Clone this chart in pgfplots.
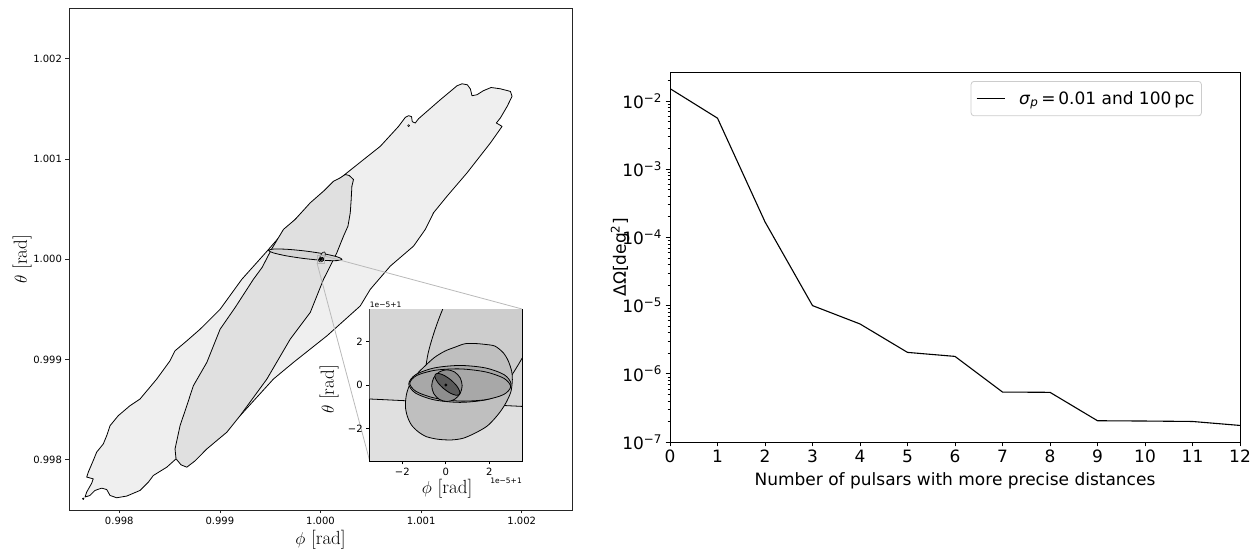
\documentclass[border=0pt]{standalone}
\usepackage{fontspec}
\usepackage{pgfplots}
\usepackage{pgfplotstable}
\pgfplotsset{compat=1.18}
\newfontfamily\dejavu{DejaVu Sans}
\definecolor{bigc}{HTML}{EFEFEF}
\definecolor{medc}{HTML}{E0E0E0}
\definecolor{eonec}{HTML}{D5D5D5}
\definecolor{etwoc}{HTML}{CDCDCD}
\definecolor{ethreec}{HTML}{BFBFBF}
\definecolor{efourc}{HTML}{A8A8A8}
\definecolor{efivec}{HTML}{8E8E8E}
\definecolor{esixc}{HTML}{5A5A5A}

% main panel: coordinates in mrad relative to 1 rad
\pgfplotstableread{
x y
-2.341 -2.371
-2.324 -2.321
-2.275 -2.234
-2.259 -2.189
-2.324 -2.172
-2.308 -2.122
-2.259 -2.007
-2.225 -1.923
-2.159 -1.841
-2.125 -1.758
-2.092 -1.659
-2.010 -1.559
-1.894 -1.460
-1.794 -1.393
-1.628 -1.194
-1.496 -1.012
-1.446 -0.912
-1.329 -0.813
-1.197 -0.697
-0.998 -0.498
-0.782 -0.199
-0.533 0.080
-0.301 0.348
-0.003 0.647
0.263 0.863
0.428 0.995
0.594 1.127
0.776 1.326
0.843 1.416
0.876 1.433
0.905 1.423
0.912 1.373
0.942 1.360
0.975 1.403
1.191 1.592
1.357 1.731
1.407 1.751
1.460 1.741
1.490 1.699
1.506 1.632
1.556 1.642
1.619 1.682
1.696 1.714
1.788 1.701
1.888 1.675
1.904 1.625
1.855 1.525
1.788 1.410
1.748 1.360
1.805 1.326
1.689 1.161
1.457 0.863
1.258 0.630
1.124 0.465
1.042 0.299
0.925 0.132
0.694 -0.067
0.495 -0.299
0.395 -0.465
0.064 -0.763
-0.269 -1.028
-0.468 -1.194
-0.799 -1.559
-1.098 -1.791
-1.436 -1.990
-1.528 -2.073
-1.662 -2.156
-1.711 -2.222
-1.794 -2.305
-1.926 -2.361
-2.026 -2.378
-2.092 -2.355
-2.125 -2.296
-2.175 -2.282
-2.242 -2.305
-2.292 -2.355
}\bigreg

\pgfplotstableread{
x y
0.246 0.846
0.286 0.836
0.328 0.796
0.312 0.729
0.305 0.597
0.296 0.465
0.273 0.331
0.229 0.232
0.163 0.067
0.097 -0.067
0.030 -0.199
-0.102 -0.530
-0.301 -0.796
-0.533 -1.194
-0.799 -1.559
-0.931 -1.724
-1.130 -1.891
-1.247 -2.010
-1.329 -2.073
-1.386 -2.050
-1.436 -1.990
-1.446 -1.891
-1.396 -1.659
-1.329 -1.460
-1.264 -1.261
-1.130 -1.028
-0.998 -0.697
-0.849 -0.481
-0.667 -0.199
-0.580 -0.080
-0.484 0.106
-0.368 0.299
-0.252 0.398
-0.102 0.564
0.030 0.680
0.129 0.779
0.196 0.813
}\medreg

\pgfplotstableread{
x y
0.2133 0.0002
0.1666 0.0250
0.0346 0.0552
-0.1474 0.0827
-0.3306 0.1001
-0.4660 0.1027
-0.5173 0.0899
-0.4706 0.0650
-0.3386 0.0348
-0.1566 0.0073
0.0266 -0.0101
0.1620 -0.0127
}\eone

% small contours: coordinates in units of 1e-5 rad relative to 1 rad
\pgfplotstableread{
u v
4.013 7.332
2.755 7.179
1.268 5.853
-0.049 3.709
-0.844 1.321
-0.904 -0.671
-0.213 -1.732
1.044 -1.579
2.532 -0.253
3.849 1.891
4.644 4.279
4.704 6.271
}\etwo

\pgfplotstableread{
u v
0.876 1.90
1.337 1.91
1.797 1.87
2.258 1.79
2.642 1.48
2.873 1.10
3.026 0.63
3.057 0.25
2.995 -0.29
2.796 -0.76
2.565 -1.14
2.258 -1.53
1.874 -1.91
1.336 -2.22
0.799 -2.45
0.261 -2.53
-0.353 -2.50
-0.891 -2.38
-1.275 -2.15
-1.582 -1.84
-1.767 -1.45
-1.859 -0.99
-1.813 -0.45
-1.659 0.01
-1.352 0.48
-0.891 0.94
-0.507 1.28
-0.046 1.56
0.415 1.74
}\ethree

\pgfplotstableread{
u v
2.995 0.05
2.680 0.475
1.820 0.786
0.645 0.90
-0.530 0.786
-1.390 0.475
-1.705 0.05
-1.390 -0.375
-0.530 -0.686
0.645 -0.80
1.820 -0.686
2.680 -0.375
}\efoura

\pgfplotstableread{
u v
2.979 -0.081
2.681 0.300
1.841 0.600
0.686 0.740
-0.477 0.681
-1.335 0.440
-1.659 0.081
-1.361 -0.300
-0.521 -0.600
0.634 -0.740
1.797 -0.681
2.655 -0.440
}\efourb

\pgfplotstableread{
u v
0.75 -0.03
0.656 0.335
0.40 0.602
0.05 0.70
-0.30 0.602
-0.556 0.335
-0.65 -0.03
-0.556 -0.395
-0.30 -0.662
0.05 -0.76
0.40 -0.662
0.656 -0.395
}\efive

\pgfplotstableread{
u v
0.6215 -0.433
0.631 -0.271
0.491 -0.029
0.237 0.229
-0.061 0.434
-0.324 0.531
-0.4815 0.493
-0.491 0.331
-0.351 0.089
-0.097 -0.169
0.201 -0.374
0.464 -0.471
}\esix

\pgfplotstableread{
n dOmega
0 1.52e-2
1 5.6e-3
2 1.69e-4
3 1.0e-5
4 5.38e-6
5 2.06e-6
6 1.80e-6
7 5.4e-7
8 5.35e-7
9 2.05e-7
10 2.03e-7
11 2.0e-7
12 1.75e-7
}\skyarea

\pgfplotsset{
  contour/.style={draw=black, line width=0.8pt, line join=round},
}

\begin{document}
\begin{tikzpicture}
\path[use as bounding box] (0pt,0pt) rectangle (1260pt,556pt);

%================ left main panel =================
\begin{axis}[
  name=main, at={(69pt,46pt)}, anchor=south west, scale only axis,
  width=503pt, height=501.3pt,
  xmin=-2.5, xmax=2.5, ymin=-2.5, ymax=2.5,
  xtick={-2,-1,0,1,2}, ytick={-2,-1,0,1,2},
  xticklabels={0.998,0.999,1.000,1.001,1.002},
  yticklabels={0.998,0.999,1.000,1.001,1.002},
  tick pos=left, tick align=outside, major tick length=3.5pt,
  tick style={black!85, line width=0.8pt},
  ticklabel style={font=\dejavu\fontsize{10}{12}\selectfont},
  axis line style={black!85, line width=0.9pt},
  xlabel={$\phi$ [rad]}, ylabel={$\theta$ [rad]},
  label style={font=\fontsize{19}{22}\selectfont},
  xlabel style={at={(axis description cs:0.5,-0.06)}, anchor=center},
  ylabel style={at={(axis description cs:-0.093,0.5)}, anchor=center},
]
\addplot[contour, fill=bigc] table[x=x,y=y]{\bigreg} -- cycle;
\addplot[contour, fill=medc] table[x=x,y=y]{\medreg} -- cycle;
\addplot[contour, fill=eonec, smooth cycle] table[x=x,y=y]{\eone};
\addplot[contour, line width=0.6pt, fill=etwoc, smooth cycle] table[x expr=\thisrow{u}/100, y expr=\thisrow{v}/100]{\etwo};
\addplot[contour, line width=0.6pt, fill=ethreec, smooth cycle] table[x expr=\thisrow{u}/100, y expr=\thisrow{v}/100]{\ethree};
\addplot[contour, line width=0.6pt, fill=efourc, smooth cycle] table[x expr=\thisrow{u}/100, y expr=\thisrow{v}/100]{\efoura};
\addplot[contour, line width=0.6pt, fill=efivec, smooth cycle] table[x expr=\thisrow{u}/100, y expr=\thisrow{v}/100]{\efive};
\addplot[contour, line width=0.6pt, fill=esixc, smooth cycle] table[x expr=\thisrow{u}/100, y expr=\thisrow{v}/100]{\esix};
\addplot[only marks, mark=*, mark size=1.6pt, black] coordinates {(0,0)};
\addplot[only marks, mark=*, mark size=0.9pt, black] coordinates {(-2.358,-2.388)};
\addplot[only marks, mark=o, mark size=1pt, line width=0.5pt, black] coordinates {(0.876,1.333)};
\addplot[gray!60, line width=0.7pt] coordinates {(-0.035,-0.035) (0.035,-0.035) (0.035,0.035) (-0.035,0.035)} -- cycle;
\coordinate (zur) at (axis cs:0.035,0.035);
\coordinate (zll) at (axis cs:-0.035,-0.035);
\end{axis}

\draw[gray!55, line width=0.8pt] (zur) -- (522pt,247pt);
\draw[gray!55, line width=0.8pt] (zll) -- (369.7pt,95pt);

%================ inset =================
\begin{axis}[
  name=inset, at={(369.7pt,95pt)}, anchor=south west, scale only axis,
  width=152.3pt, height=152pt,
  xmin=-3.5, xmax=3.5, ymin=-3.5, ymax=3.5,
  xtick={-2,0,2}, ytick={-2,0,2},
  xticklabels={−2,0,2}, yticklabels={−2,0,2},
  tick pos=left, tick align=outside, major tick length=3.5pt,
  tick style={black, line width=0.8pt},
  ticklabel style={font=\dejavu\fontsize{10}{12}\selectfont},
  axis line style={black, line width=0.9pt},
  axis background/.style={fill=medc},
  xlabel={$\phi$ [rad]}, ylabel={$\theta$ [rad]},
  label style={font=\fontsize{19}{22}\selectfont},
  xlabel style={at={(axis description cs:0.508,-0.184)}, anchor=center},
  ylabel style={at={(axis description cs:-0.267,0.47)}, anchor=center},
]
\addplot[contour, fill=eonec] coordinates {(-4,-0.62) (4,-1.01) (4,5) (-4,5)} -- cycle;
\addplot[contour, fill=etwoc, smooth cycle] table[x=u,y=v]{\etwo};
\addplot[contour, fill=ethreec, smooth cycle] table[x=u,y=v]{\ethree};
\addplot[contour, fill=efourc, smooth cycle] table[x=u,y=v]{\efoura};
\addplot[contour, fill=efourc, smooth cycle] table[x=u,y=v]{\efourb};
\addplot[contour, fill=efivec, smooth cycle] table[x=u,y=v]{\efive};
\addplot[contour, fill=esixc, smooth cycle] table[x=u,y=v]{\esix};
\addplot[only marks, mark=*, mark size=1.3pt, black] coordinates {(0,0)};
\end{axis}
\node[anchor=south west, inner sep=0pt, font=\dejavu\fontsize{7.5}{9}\selectfont] at ([yshift=1.5pt]inset.north west) {1e−5+1};
\node[anchor=north east, inner sep=0pt, font=\dejavu\fontsize{7.5}{9}\selectfont] at ([yshift=-17pt]inset.south east) {1e−5+1};

%================ right panel =================
\begin{axis}[
  at={(670pt,114pt)}, anchor=south west, scale only axis,
  width=570pt, height=369.3pt,
  ymode=log, log basis y=10,
  xmin=0, xmax=12, ymin=1e-7, ymax=0.026,
  xtick={0,1,2,3,4,5,6,7,8,9,10,11,12},
  xticklabels={0,1,2,3,4,5,6,7,8,9,10,11,12},
  ytick={1e-7,1e-6,1e-5,1e-4,1e-3,1e-2},
  yticklabels={10\textsuperscript{−7},10\textsuperscript{−6},10\textsuperscript{−5},10\textsuperscript{−4},10\textsuperscript{−3},10\textsuperscript{−2}},
  minor ytick={2e-7,3e-7,4e-7,5e-7,6e-7,7e-7,8e-7,9e-7,
               2e-6,3e-6,4e-6,5e-6,6e-6,7e-6,8e-6,9e-6,
               2e-5,3e-5,4e-5,5e-5,6e-5,7e-5,8e-5,9e-5,
               2e-4,3e-4,4e-4,5e-4,6e-4,7e-4,8e-4,9e-4,
               2e-3,3e-3,4e-3,5e-3,6e-3,7e-3,8e-3,9e-3,2e-2},
  tick pos=left, tick align=outside, major tick length=4.5pt, minor tick length=2.5pt,
  tick style={black, line width=0.8pt},
  ticklabel style={font=\dejavu\fontsize{17}{20}\selectfont},
  label style={font=\dejavu\fontsize{17}{20}\selectfont},
  axis line style={black, line width=0.9pt},
  xlabel={Number of pulsars with more precise distances},
  ylabel={ΔΩ[deg\textsuperscript{2}]},
  xlabel style={at={(axis description cs:0.5,-0.1056)}, anchor=center},
  ylabel style={at={(axis description cs:-0.0877,0.5)}, anchor=center},
  legend style={at={(0.933,0.9775)}, anchor=north east, draw=black!20, rounded corners=3pt,
    font=\dejavu\fontsize{17}{20}\selectfont, inner xsep=5pt, inner ysep=8pt, line width=0.8pt},
  legend image code/.code={\draw[#1] (2pt,0pt) -- (30pt,0pt);},
]
\addplot[black, line width=1.1pt] table[x=n, y=dOmega]{\skyarea};
\addlegendentry{\hspace{12pt}\textit{σ}\textsubscript{\textit{p}}\,=\,0.01 and 100\,pc}
\end{axis}
\end{tikzpicture}
\end{document}
